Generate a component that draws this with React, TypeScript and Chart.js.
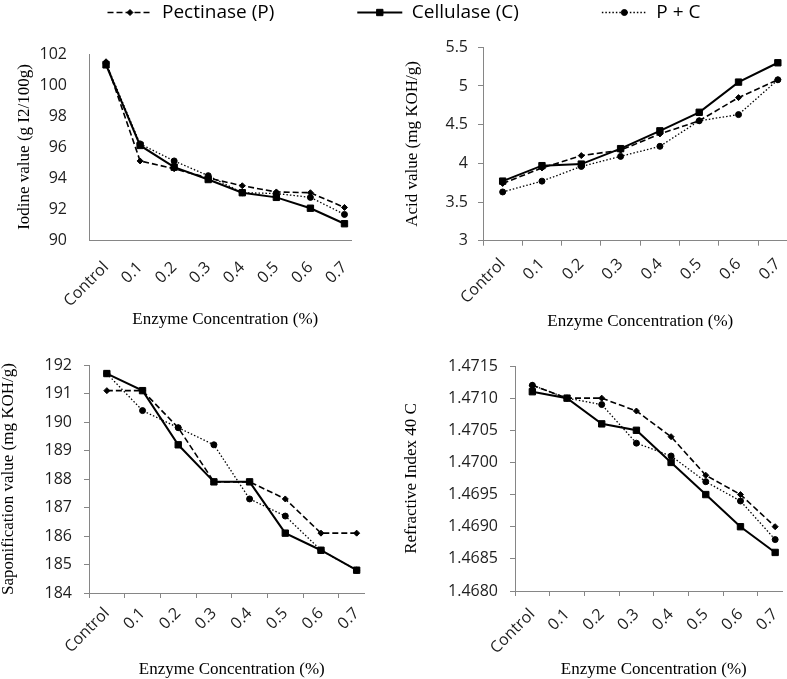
import React, { useEffect, useRef } from 'react';
import { Chart, registerables } from 'chart.js';

Chart.register(...registerables);

// ---------------- data ----------------
const categories = ['Control', '0.1', '0.2', '0.3', '0.4', '0.5', '0.6', '0.7'];
const seriesNames = ['Pectinase (P)', 'Cellulase (C)', 'P + C'];
const xAxisTitle = 'Enzyme Concentration (%)';

const iodineTitle = 'Iodine value (g I2/100g)';
const iodinePectinase = [101.5, 95.1, 94.6, 94.0, 93.5, 93.1, 93.05, 92.1];
const iodineCellulase = [101.3, 96.1, 94.7, 93.9, 93.05, 92.75, 92.05, 91.05];
const iodineMix = [101.4, 96.2, 95.1, 94.15, 93.05, 93.0, 92.75, 91.65];
const iodineTicks = { min: 90, max: 102, step: 2, decimals: 0 };

const acidTitle = 'Acid value (mg KOH/g)';
const acidPectinase = [3.74, 3.94, 4.1, 4.17, 4.38, 4.55, 4.85, 5.08];
const acidCellulase = [3.77, 3.97, 3.99, 4.19, 4.42, 4.66, 5.05, 5.3];
const acidMix = [3.63, 3.77, 3.96, 4.09, 4.22, 4.55, 4.63, 5.08];
const acidTicks = { min: 3, max: 5.5, step: 0.5, decimals: -1 };

const saponTitle = 'Saponification value (mg KOH/g)';
const saponPectinase = [191.1, 191.1, 189.8, 187.9, 187.9, 187.3, 186.1, 186.1];
const saponCellulase = [191.7, 191.1, 189.2, 187.9, 187.9, 186.1, 185.5, 184.8];
const saponMix = [191.7, 190.4, 189.8, 189.2, 187.3, 186.7, 185.5, 184.8];
const saponTicks = { min: 184, max: 192, step: 1, decimals: 0 };

const refrTitle = 'Refractive Index 40 C';
const refrPectinase = [1.4712, 1.471, 1.471, 1.4708, 1.4704, 1.4698, 1.4695, 1.469];
const refrCellulase = [1.4711, 1.471, 1.4706, 1.4705, 1.47, 1.4695, 1.469, 1.4686];
const refrMix = [1.4712, 1.471, 1.4709, 1.4703, 1.4701, 1.4697, 1.4694, 1.4688];
const refrTicks = { min: 1.468, max: 1.4715, step: 0.0005, decimals: 4 };

// ---------------- styles ----------------
const AXIS_COLOR = '#868686';
const TEXT_COLOR = '#1e1e1e';
const TICK_FONT = { family: "'Open Sans', 'DejaVu Sans', sans-serif", size: 16, lineHeight: 1.2 };
const TITLE_FONT = { family: "'Liberation Serif', 'Times New Roman', serif", size: 17, lineHeight: 1.2 };
const LEGEND_FONT = { family: "'Open Sans', 'DejaVu Sans', sans-serif", size: 19, lineHeight: 1.2 };
const TITLE_LH = TITLE_FONT.size * TITLE_FONT.lineHeight;

const seriesStyles: any[] = [
  { borderDash: [6, 3], borderWidth: 1.6, pointStyle: 'rectRot', pointRadius: 3 },
  { borderDash: [], borderWidth: 2, pointStyle: 'rect', pointRadius: 4.5 },
  { borderDash: [1.5, 2], borderWidth: 1.3, pointStyle: 'circle', pointRadius: 3 },
];

interface PanelSpec {
  yTitle: string;
  series: number[][];
  ticks: { min: number; max: number; step: number; decimals: number };
  left: number; top: number;
  plotL: number; plotR: number; plotT: number; plotB: number;
  yTitleX: number; xTitleY: number; cropR: number;
  tickMarks: boolean; yTickPad: number; xTickPad: number;
}

const panels: PanelSpec[] = [
  {
    yTitle: iodineTitle, series: [iodinePectinase, iodineCellulase, iodineMix], ticks: iodineTicks,
    left: 0, top: 30, plotL: 89, plotR: 366.6, plotT: 54, plotB: 240,
    yTitleX: 25, xTitleY: 320, cropR: 352, tickMarks: false, yTickPad: 17, xTickPad: 13,
  },
  {
    yTitle: acidTitle, series: [acidPectinase, acidCellulase, acidMix], ticks: acidTicks,
    left: 395, top: 20, plotL: 483, plotR: 803, plotT: 47.3, plotB: 240.7,
    yTitleX: 413, xTitleY: 322, cropR: 787, tickMarks: true, yTickPad: 10, xTickPad: 9,
  },
  {
    yTitle: saponTitle, series: [saponPectinase, saponCellulase, saponMix], ticks: saponTicks,
    left: 0, top: 340, plotL: 89, plotR: 380, plotT: 365, plotB: 593,
    yTitleX: 9, xTitleY: 670, cropR: 365, tickMarks: true, yTickPad: 12, xTickPad: 6,
  },
  {
    yTitle: refrTitle, series: [refrPectinase, refrCellulase, refrMix], ticks: refrTicks,
    left: 395, top: 340, plotL: 515, plotR: 798, plotT: 366, plotB: 591,
    yTitleX: 412, xTitleY: 670, cropR: 783, tickMarks: true, yTickPad: 12, xTickPad: 9,
  },
];

function fmt(v: number, decimals: number) {
  if (decimals < 0) return String(Math.round(v * 1000) / 1000);
  return Number(v).toFixed(decimals);
}

function PanelChart({ spec }: { spec: PanelSpec }) {
  const ref = useRef<HTMLCanvasElement>(null);
  const W = Math.round(spec.plotR - spec.left);
  const H = Math.round(spec.xTitleY + 14 - spec.top);
  useEffect(() => {
    if (!ref.current) return;
    const yW = spec.plotL - spec.left;
    const xH = H - (spec.plotB - spec.top);
    const chart = new Chart(ref.current, {
      type: 'line',
      data: {
        labels: categories,
        datasets: spec.series.map((d, i) => ({
          label: seriesNames[i],
          data: d,
          borderColor: '#000',
          backgroundColor: '#000',
          pointBackgroundColor: '#000',
          pointBorderColor: '#000',
          pointBorderWidth: 1,
          tension: 0,
          fill: false,
          clip: false as any,
          ...seriesStyles[i],
        })),
      },
      options: {
        responsive: false,
        animation: false,
        devicePixelRatio: 1,
        layout: { padding: { left: 0, right: 0, top: spec.plotT - spec.top, bottom: 0 } },
        plugins: { legend: { display: false }, tooltip: { enabled: false } },
        scales: {
          x: {
            type: 'category',
            offset: true,
            grid: {
              display: spec.tickMarks,
              offset: true,
              drawOnChartArea: false,
              drawTicks: true,
              tickLength: 5,
              color: AXIS_COLOR,
            },
            border: { display: true, color: AXIS_COLOR, width: 1 },
            ticks: {
              autoSkip: false,
              maxRotation: 45,
              minRotation: 45,
              padding: spec.xTickPad,
              font: TICK_FONT,
              color: TEXT_COLOR,
            },
            title: {
              display: true,
              text: xAxisTitle,
              font: TITLE_FONT,
              color: '#000',
              padding: { top: 0, bottom: H - (spec.xTitleY - spec.top) - TITLE_LH / 2 },
            },
            afterFit: (s: any) => {
              s.height = xH;
              s.paddingLeft = 0;
              s.paddingRight = 0;
            },
          },
          y: {
            type: 'linear',
            min: spec.ticks.min,
            max: spec.ticks.max,
            grid: {
              display: spec.tickMarks,
              drawOnChartArea: false,
              drawTicks: true,
              tickLength: 5,
              color: AXIS_COLOR,
            },
            border: { display: true, color: AXIS_COLOR, width: 1 },
            ticks: {
              stepSize: spec.ticks.step,
              padding: spec.yTickPad,
              font: TICK_FONT,
              color: TEXT_COLOR,
              callback: (v: any) => fmt(Number(v), spec.ticks.decimals),
            },
            title: {
              display: true,
              text: spec.yTitle,
              font: TITLE_FONT,
              color: '#000',
              padding: { top: spec.yTitleX - spec.left - TITLE_LH / 2, bottom: 0 },
            },
            afterFit: (s: any) => {
              s.width = yW;
              s.paddingTop = 0;
              s.paddingBottom = 0;
            },
          },
        },
      } as any,
    });
    return () => chart.destroy();
  }, []);
  return (
    <div
      style={{
        position: 'absolute',
        left: spec.left,
        top: spec.top,
        width: spec.cropR - spec.left,
        height: H,
        overflow: 'hidden',
      }}
    >
      <canvas ref={ref} width={W} height={H} style={{ display: 'block', width: W, height: H }} />
    </div>
  );
}

function drawMarker(ctx: CanvasRenderingContext2D, style: string, x: number, y: number, r: number) {
  ctx.save();
  ctx.setLineDash([]);
  ctx.fillStyle = '#000';
  ctx.strokeStyle = '#000';
  ctx.lineWidth = 1;
  ctx.beginPath();
  if (style === 'rect') {
    const s = Math.SQRT1_2 * r;
    ctx.rect(x - s, y - s, 2 * s, 2 * s);
  } else if (style === 'rectRot') {
    ctx.moveTo(x - r, y);
    ctx.lineTo(x, y - r);
    ctx.lineTo(x + r, y);
    ctx.lineTo(x, y + r);
    ctx.closePath();
  } else {
    ctx.arc(x, y, r, 0, Math.PI * 2);
  }
  ctx.fill();
  ctx.stroke();
  ctx.restore();
}

const LEGEND_PAD = 83;
const LEGEND_BOX = 45;
const LEGEND_W = 808;
const LEGEND_H = 420;
const LEGEND_CENTER_Y = 12;

function LegendChart() {
  const ref = useRef<HTMLCanvasElement>(null);
  const top = Math.round(LEGEND_CENTER_Y - LEGEND_PAD - LEGEND_FONT.size / 2);
  useEffect(() => {
    if (!ref.current) return;
    const markerPlugin = {
      id: 'legendMarkers',
      afterDraw(chart: any) {
        const boxes = chart.legend && chart.legend.legendHitBoxes;
        if (!boxes) return;
        boxes.forEach((b: any, i: number) => {
          const st = seriesStyles[i];
          drawMarker(chart.ctx, st.pointStyle, b.left + LEGEND_BOX / 2, b.top + LEGEND_FONT.size / 2, st.pointRadius);
        });
      },
    };
    const chart = new Chart(ref.current, {
      type: 'line',
      data: {
        labels: [],
        datasets: seriesNames.map((n, i) => ({
          label: n,
          data: [],
          borderColor: '#000',
          backgroundColor: '#000',
          ...seriesStyles[i],
        })),
      },
      options: {
        responsive: false,
        animation: false,
        devicePixelRatio: 1,
        scales: { x: { display: false }, y: { display: false } },
        plugins: {
          tooltip: { enabled: false },
          legend: {
            display: true,
            position: 'top',
            align: 'center',
            labels: {
              usePointStyle: true,
              pointStyle: 'line',
              pointStyleWidth: LEGEND_BOX,
              padding: LEGEND_PAD,
              font: LEGEND_FONT,
              color: '#000',
              generateLabels: (c: any) =>
                c.data.datasets.map((ds: any, i: number) => ({
                  text: ds.label,
                  fillStyle: '#000',
                  strokeStyle: '#000',
                  fontColor: '#000',
                  lineWidth: ds.borderWidth,
                  lineDash: ds.borderDash,
                  pointStyle: 'line',
                  hidden: false,
                  datasetIndex: i,
                })),
            },
          },
        },
      } as any,
      plugins: [markerPlugin],
    });
    return () => chart.destroy();
  }, []);
  return (
    <div style={{ position: 'absolute', left: 0, top: 0, width: 787, height: 60, overflow: 'hidden' }}>
      <canvas
        ref={ref}
        width={LEGEND_W}
        height={LEGEND_H}
        style={{ position: 'absolute', left: 0, top, display: 'block', width: LEGEND_W, height: LEGEND_H }}
      />
    </div>
  );
}

export default function App() {
  useEffect(() => {
    document.body.style.margin = '0';
  }, []);
  return (
    <div
      style={{
        position: 'fixed',
        left: 0,
        top: 0,
        width: 787,
        height: 679,
        overflow: 'hidden',
        background: '#fff',
      }}
    >
      <LegendChart />
      {panels.map((p, i) => (
        <PanelChart key={i} spec={p} />
      ))}
    </div>
  );
}
